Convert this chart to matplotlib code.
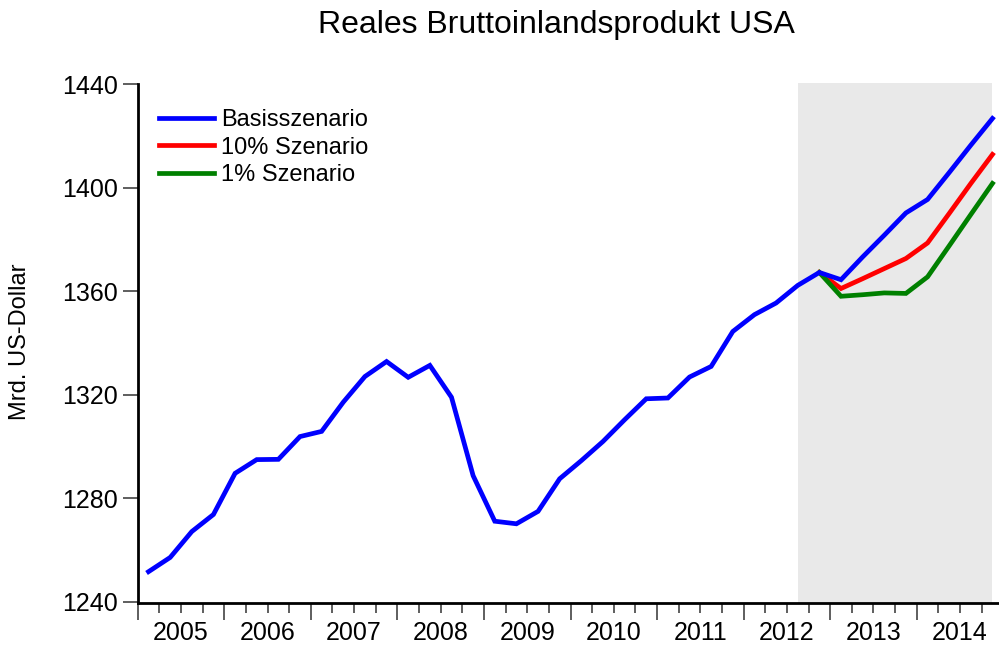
import numpy as np
import pandas as pd
import matplotlib
matplotlib.use("Agg")
import matplotlib.pyplot as plt
import matplotlib.transforms as mtransforms

plt.rcParams["font.family"] = ["Liberation Sans", "DejaVu Sans"]

# --- Daten, Quartale 2005Q1 - 2014Q4 ---
quartale = pd.period_range("2005Q1", "2014Q4", freq="Q")

basis = [
    1251.6, 1257.1, 1267.1, 1273.7,
    1289.6, 1294.9, 1295.0, 1303.8,
    1305.8, 1317.1, 1327.0, 1332.8,
    1326.7, 1331.3, 1319.0, 1288.7,
    1271.1, 1270.1, 1274.9, 1287.5,
    1294.5, 1301.9, 1310.3, 1318.4,
    1318.7, 1326.8, 1330.9, 1344.4,
    1350.9, 1355.4, 1362.2, 1367.2,
    1364.4, 1373.2, 1381.6, 1390.2,
    1395.4, 1405.8, 1416.4, 1426.7,
]
# Szenarien ab 2012Q4
szen_start = "2012Q4"
szen_10 = [1367.2, 1361.0, 1364.8, 1368.7, 1372.6, 1378.6, 1390.0, 1401.6, 1412.8]
szen_1 = [1367.2, 1358.0, 1358.6, 1359.3, 1359.1, 1365.5, 1377.5, 1389.6, 1401.6]

prognose_von = "2012Q3"
jahre = list(range(2005, 2015))

# Quartalsmitte als x-Position
x = quartale.year + (quartale.quarter - 0.5) / 4
i0 = list(quartale).index(pd.Period(szen_start, freq="Q"))
ip = list(quartale).index(pd.Period(prognose_von, freq="Q"))

fig = plt.figure(figsize=(9.99, 6.47), dpi=100)
ax = fig.add_axes([137.7 / 999, 44 / 647, (999 - 137.7) / 999, 520 / 647])

ax.axvspan(x[ip], x[-1], color="#e9e9e9", lw=0, zorder=0)

lw = 3.4
ax.plot(x, basis, color="#0000ff", lw=lw, label="Basisszenario", zorder=3,
        solid_joinstyle="miter")
ax.plot(x[i0:], szen_10, color="#ff0000", lw=lw, label="10% Szenario", zorder=2,
        solid_joinstyle="miter")
ax.plot(x[i0:], szen_1, color="#008000", lw=lw, label="1% Szenario", zorder=2,
        solid_joinstyle="miter")

ax.set_xlim(2005.0, 2005 + (999 - 138.3) / 86.5)
ax.set_ylim(1239.5, 1440.4)

for s in ["top", "right"]:
    ax.spines[s].set_visible(False)
ax.spines["left"].set_linewidth(2)
ax.spines["bottom"].set_linewidth(2)
ax.spines["left"].set_bounds(1239.5, 1440)

ax.set_yticks(np.arange(1240, 1441, 40))
ax.tick_params(axis="y", direction="out", length=11, width=1.1, labelsize=18,
               pad=3, color="#333333")

ax.set_xticks(jahre, [""] * len(jahre))
ax.set_xticks([j + q / 4 for j in jahre for q in (1, 2, 3)], minor=True)
ax.tick_params(axis="x", which="major", direction="out", length=12, width=1.1,
               color="#333333")
ax.tick_params(axis="x", which="minor", direction="out", length=7, width=1.1,
               color="#333333")

trans = mtransforms.blended_transform_factory(ax.transData, ax.transAxes)
for j in jahre:
    ax.annotate(str(j), xy=(j + 0.5, 0), xycoords=trans, xytext=(0, -30),
                textcoords="offset pixels", ha="center", va="center", fontsize=18)

fig.text(20 / 999, 1 - 342 / 647, "Mrd. US-Dollar", rotation=90,
         ha="center", va="center", fontsize=17)

fig.text(556 / 999, 1 - 25 / 647, "Reales Bruttoinlandsprodukt USA",
         ha="center", va="center", fontsize=23)

ax.legend(loc="upper left", bbox_to_anchor=(0.0135, 0.968), frameon=False,
          fontsize=17, handlelength=2.33, handletextpad=0.3, labelspacing=0.23,
          borderaxespad=0)

fig.savefig("out.png", dpi=100)
